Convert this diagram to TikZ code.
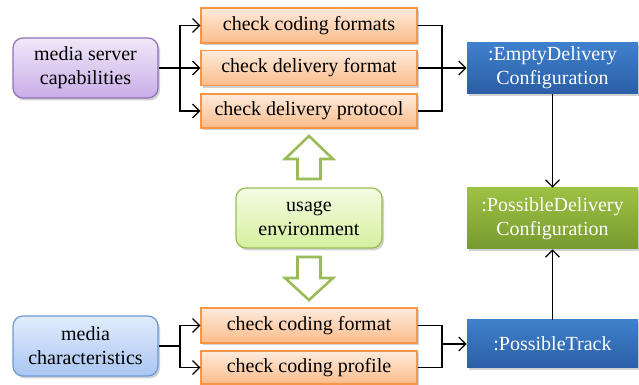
\documentclass[tikz,border=0pt]{standalone}
\usepackage{fontspec}
\setmainfont{Liberation Serif}
\usetikzlibrary{arrows.meta,shadows}
\definecolor{orbord}{HTML}{F79646}
\definecolor{ortop}{HTML}{FEEBDD}
\definecolor{orbot}{HTML}{FBBC8A}
\definecolor{pubord}{HTML}{8E72B8}
\definecolor{putop}{HTML}{F0E8F8}
\definecolor{pubot}{HTML}{C9ADE8}
\definecolor{lbbord}{HTML}{6E9AD2}
\definecolor{lbtop}{HTML}{E2ECFC}
\definecolor{lbbot}{HTML}{A9C6F3}
\definecolor{lgbord}{HTML}{9BBB59}
\definecolor{lgtop}{HTML}{F5FCE2}
\definecolor{lgbot}{HTML}{D4F09E}
\definecolor{dbtop}{HTML}{3F80CC}
\definecolor{dbbot}{HTML}{2B5EA6}
\definecolor{dgtop}{HTML}{9DC144}
\definecolor{dgbot}{HTML}{789A30}
\begin{document}
\begin{tikzpicture}[x=0.5pt,y=-0.5pt,font=\fontsize{10}{12}\selectfont,
  shad/.style={drop shadow={shadow xshift=1pt,shadow yshift=-1.2pt,fill=black,opacity=0.18}},
  chk/.style={shad,draw=orbord,line width=0.6pt,top color=ortop,bottom color=orbot,
    minimum width=108pt,text=black,inner sep=0pt},
  src/.style={shad,rounded corners=5pt,line width=0.6pt,minimum width=72.5pt,minimum height=30pt,
    align=center,inner sep=0pt},
  cls/.style={shad,minimum width=85.5pt,align=center,text=white,inner sep=0pt},
  con/.style={line width=0.6pt,black},
  arr/.style={con,-{Straight Barb[length=3.5pt,width=7pt]}},
  blk/.style={draw=lgbord,line width=1.3pt,fill=white,line join=miter}]
\useasboundingbox (0,0) rectangle (639,385);
% sources
\node[src,draw=pubord,top color=putop,bottom color=pubot] (msc) at (85.5,68) {media server\\capabilities};
\node[src,draw=lbbord,top color=lbtop,bottom color=lbbot] (mc) at (85.5,346) {media\\characteristics};
\node[src,draw=lgbord,top color=lgtop,bottom color=lgbot,minimum width=73pt] (ue) at (309,218) {usage\\environment};
% checks
\node[chk,minimum height=17.5pt] (cf1) at (309,25.5) {check coding formats};
\node[chk,minimum height=17.5pt] (cf2) at (309,68) {check delivery format};
\node[chk,minimum height=17pt] (cf3) at (309,111) {check delivery protocol};
\node[chk,minimum height=17.5pt] (cc1) at (309,325.5) {check coding format};
\node[chk,minimum height=16.5pt] (cc2) at (309,367.5) {check coding profile};
% classes
\node[cls,top color=dbtop,bottom color=dbbot,minimum height=25.5pt] (ed) at (552.5,68) {:EmptyDelivery\\Configuration};
\node[cls,top color=dgtop,bottom color=dgbot,minimum height=30.5pt] (pd) at (552.5,218.5) {:PossibleDelivery\\Configuration};
\node[cls,top color=dbtop,bottom color=dbbot,minimum height=24pt] (pt) at (552.5,344) {:PossibleTrack};
% branch coordinates
\coordinate (b1) at (180,68);
\coordinate (m1) at (442,68);
\coordinate (b2) at (180,346);
\coordinate (m2) at (442,344);
% top group
\draw[con] (msc.east) -- (b1);
\draw[arr] (b1) |- (cf1.west);
\draw[arr] (b1) -- (cf2.west);
\draw[arr] (b1) |- (cf3.west);
\draw[con] (cf1.east) -| (m1);
\draw[con] (cf2.east) -- (m1);
\draw[con] (cf3.east) -| (m1);
\draw[arr] (m1) -- (ed.west);
% bottom group
\draw[con] (mc.east) -- (b2);
\draw[arr] (b2) |- (cc1.west);
\draw[arr] (b2) |- (cc2.west);
\draw[con] (cc1.east) -| (m2);
\draw[con] (cc2.east) -| (m2);
\draw[arr] (m2) -- (pt.west);
% class links
\draw[arr] (ed.south) -- (pd.north);
\draw[arr] (pt.north) -- (pd.south);
% block arrows
\draw[blk] (309,136) -- (333,159) -- (320.5,159) -- (320.5,179) -- (297.5,179) -- (297.5,159) -- (285,159) -- cycle;
\draw[blk] (309,300) -- (333,278) -- (320.5,278) -- (320.5,257) -- (297.5,257) -- (297.5,278) -- (285,278) -- cycle;
\end{tikzpicture}
\end{document}
